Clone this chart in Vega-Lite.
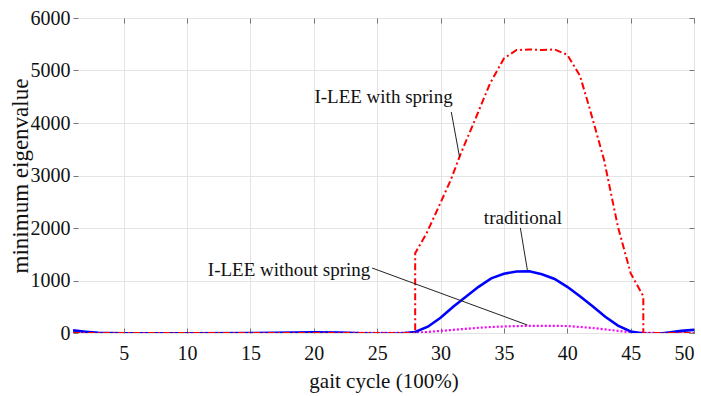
{
  "$schema": "https://vega.github.io/schema/vega-lite/v6.json",
  "width": 621,
  "height": 315,
  "autosize": {"type": "none"},
  "padding": {"left": 73, "top": 18, "right": 7, "bottom": 63},
  "background": "white",
  "config": {
    "view": {"stroke": null},
    "font": "Liberation Serif, Times New Roman, serif",
    "axis": {
      "labelFont": "Liberation Serif, Times New Roman, serif",
      "titleFont": "Liberation Serif, Times New Roman, serif",
      "labelFontSize": 20,
      "titleFontSize": 21,
      "titleFontWeight": "normal",
      "labelColor": "#111",
      "titleColor": "#111",
      "gridColor": "#e4e4e4",
      "gridWidth": 1,
      "domain": false,
      "ticks": true,
      "tickSize": -5,
      "tickColor": "#777",
      "tickWidth": 1
    }
  },
  "datasets": {
    "curves": [
      {"series": "with", "i": 1, "x": 1, "y": 0},
      {"series": "with", "i": 2, "x": 5, "y": 0},
      {"series": "with", "i": 3, "x": 10, "y": 0},
      {"series": "with", "i": 4, "x": 15, "y": 0},
      {"series": "with", "i": 5, "x": 20, "y": 0},
      {"series": "with", "i": 6, "x": 25, "y": 0},
      {"series": "with", "i": 7, "x": 28, "y": 0},
      {"series": "with", "i": 8, "x": 28, "y": 1520},
      {"series": "with", "i": 9, "x": 28.9, "y": 1900},
      {"series": "with", "i": 10, "x": 29.85, "y": 2400},
      {"series": "with", "i": 11, "x": 30.8, "y": 2910},
      {"series": "with", "i": 12, "x": 31.6, "y": 3420},
      {"series": "with", "i": 13, "x": 32.6, "y": 3990},
      {"series": "with", "i": 14, "x": 33.9, "y": 4750},
      {"series": "with", "i": 15, "x": 35, "y": 5230},
      {"series": "with", "i": 16, "x": 36, "y": 5390},
      {"series": "with", "i": 17, "x": 37, "y": 5400},
      {"series": "with", "i": 18, "x": 38, "y": 5390},
      {"series": "with", "i": 19, "x": 39, "y": 5400},
      {"series": "with", "i": 20, "x": 40, "y": 5300},
      {"series": "with", "i": 21, "x": 41, "y": 4900},
      {"series": "with", "i": 22, "x": 41.8, "y": 4250},
      {"series": "with", "i": 23, "x": 42.9, "y": 3300},
      {"series": "with", "i": 24, "x": 44, "y": 2020},
      {"series": "with", "i": 25, "x": 45, "y": 1140},
      {"series": "with", "i": 26, "x": 46, "y": 700},
      {"series": "with", "i": 27, "x": 46, "y": 0},
      {"series": "with", "i": 28, "x": 47, "y": 0},
      {"series": "with", "i": 29, "x": 50, "y": 0},

      {"series": "trad", "i": 1, "x": 1, "y": 50},
      {"series": "trad", "i": 2, "x": 2, "y": 25},
      {"series": "trad", "i": 3, "x": 3, "y": 5},
      {"series": "trad", "i": 4, "x": 5, "y": -5},
      {"series": "trad", "i": 5, "x": 10, "y": -5},
      {"series": "trad", "i": 6, "x": 15, "y": 0},
      {"series": "trad", "i": 7, "x": 20, "y": 15},
      {"series": "trad", "i": 8, "x": 22, "y": 10},
      {"series": "trad", "i": 9, "x": 25, "y": -15},
      {"series": "trad", "i": 10, "x": 27, "y": -5},
      {"series": "trad", "i": 11, "x": 28, "y": 20},
      {"series": "trad", "i": 12, "x": 29, "y": 120},
      {"series": "trad", "i": 13, "x": 30, "y": 290},
      {"series": "trad", "i": 14, "x": 31, "y": 500},
      {"series": "trad", "i": 15, "x": 32, "y": 690},
      {"series": "trad", "i": 16, "x": 33, "y": 880},
      {"series": "trad", "i": 17, "x": 34, "y": 1040},
      {"series": "trad", "i": 18, "x": 35, "y": 1130},
      {"series": "trad", "i": 19, "x": 36, "y": 1170},
      {"series": "trad", "i": 20, "x": 37, "y": 1175},
      {"series": "trad", "i": 21, "x": 38, "y": 1120},
      {"series": "trad", "i": 22, "x": 39, "y": 1030},
      {"series": "trad", "i": 23, "x": 40, "y": 880},
      {"series": "trad", "i": 24, "x": 41, "y": 700},
      {"series": "trad", "i": 25, "x": 42, "y": 510},
      {"series": "trad", "i": 26, "x": 43, "y": 310},
      {"series": "trad", "i": 27, "x": 44, "y": 140},
      {"series": "trad", "i": 28, "x": 45, "y": 30},
      {"series": "trad", "i": 29, "x": 46, "y": -10},
      {"series": "trad", "i": 30, "x": 47, "y": -20},
      {"series": "trad", "i": 31, "x": 48, "y": 10},
      {"series": "trad", "i": 32, "x": 49, "y": 40},
      {"series": "trad", "i": 33, "x": 50, "y": 60},

      {"series": "without", "i": 1, "x": 1, "y": 0},
      {"series": "without", "i": 2, "x": 10, "y": 0},
      {"series": "without", "i": 3, "x": 20, "y": 0},
      {"series": "without", "i": 4, "x": 28, "y": 5},
      {"series": "without", "i": 5, "x": 29, "y": 20},
      {"series": "without", "i": 6, "x": 30, "y": 40},
      {"series": "without", "i": 7, "x": 31, "y": 60},
      {"series": "without", "i": 8, "x": 32, "y": 80},
      {"series": "without", "i": 9, "x": 33, "y": 100},
      {"series": "without", "i": 10, "x": 34, "y": 115},
      {"series": "without", "i": 11, "x": 35, "y": 125},
      {"series": "without", "i": 12, "x": 36, "y": 132},
      {"series": "without", "i": 13, "x": 37, "y": 135},
      {"series": "without", "i": 14, "x": 38, "y": 135},
      {"series": "without", "i": 15, "x": 39, "y": 135},
      {"series": "without", "i": 16, "x": 40, "y": 133},
      {"series": "without", "i": 17, "x": 41, "y": 115},
      {"series": "without", "i": 18, "x": 42, "y": 95},
      {"series": "without", "i": 19, "x": 43, "y": 70},
      {"series": "without", "i": 20, "x": 44, "y": 40},
      {"series": "without", "i": 21, "x": 45, "y": 15},
      {"series": "without", "i": 22, "x": 46, "y": 5},
      {"series": "without", "i": 23, "x": 47, "y": 0},
      {"series": "without", "i": 24, "x": 50, "y": 0}
    ],
    "labels": [
      {"x": 25.5, "y": 4500, "text": "I-LEE with spring"},
      {"x": 36.5, "y": 2190, "text": "traditional"},
      {"x": 18.05, "y": 1200, "text": "I-LEE without spring"}
    ],
    "leaders": [
      {"x": 30.85, "y": 4210, "x2": 31.5, "y2": 3352},
      {"x": 36.3, "y": 2000, "x2": 36.85, "y2": 1200},
      {"x": 24.6, "y": 1238, "x2": 36.85, "y2": 152}
    ]
  },
  "resolve": {"scale": {"x": "independent", "y": "independent"}, "axis": {"x": "independent", "y": "independent"}},
  "layer": [
    {
      "layer": [
        {
          "data": {"name": "curves"},
          "transform": [{"filter": "datum.series === 'without'"}],
          "mark": {"type": "line", "color": "#ff00ff", "strokeWidth": 2.2, "strokeDash": [2, 2], "clip": true},
          "encoding": {
            "x": {"field": "x", "type": "quantitative", "scale": {"domain": [1, 50], "nice": false, "zero": false},
              "axis": {"values": [5, 10, 15, 20, 25, 30, 35, 40, 45, 50], "format": "d", "title": "gait cycle (100%)", "labelPadding": 15, "titlePadding": 7, "grid": true}},
            "y": {"field": "y", "type": "quantitative", "scale": {"domain": [0, 6000], "nice": false},
              "axis": {"values": [0, 1000, 2000, 3000, 4000, 5000, 6000], "format": "d", "title": "minimum eigenvalue", "titleFontSize": 23, "labelPadding": 8, "titlePadding": -2, "grid": true}},
            "order": {"field": "i", "type": "quantitative"}
          }
        },
        {
          "data": {"name": "curves"},
          "transform": [{"filter": "datum.series === 'trad'"}],
          "mark": {"type": "line", "color": "#0000ff", "strokeWidth": 2.6, "clip": true},
          "encoding": {
            "x": {"field": "x", "type": "quantitative"},
            "y": {"field": "y", "type": "quantitative"},
            "order": {"field": "i", "type": "quantitative"}
          }
        },
        {
          "data": {"name": "curves"},
          "transform": [{"filter": "datum.series === 'with'"}],
          "mark": {"type": "line", "color": "#ff0000", "strokeWidth": 2, "strokeDash": [7, 3, 2, 3], "clip": true},
          "encoding": {
            "x": {"field": "x", "type": "quantitative"},
            "y": {"field": "y", "type": "quantitative"},
            "order": {"field": "i", "type": "quantitative"}
          }
        },
        {
          "data": {"name": "leaders"},
          "mark": {"type": "rule", "color": "#222", "strokeWidth": 1},
          "encoding": {
            "x": {"field": "x", "type": "quantitative"},
            "y": {"field": "y", "type": "quantitative"},
            "x2": {"field": "x2"},
            "y2": {"field": "y2"}
          }
        },
        {
          "data": {"name": "labels"},
          "mark": {"type": "text", "font": "Liberation Serif, Times New Roman, serif", "fontSize": 19, "color": "#111", "align": "center", "baseline": "middle"},
          "encoding": {
            "x": {"field": "x", "type": "quantitative"},
            "y": {"field": "y", "type": "quantitative"},
            "text": {"field": "text"}
          }
        }
      ]
    },
    {
      "data": {"name": "curves"},
      "mark": {"type": "point", "opacity": 0},
      "encoding": {
        "x": {"field": "x", "type": "quantitative", "scale": {"domain": [1, 50], "nice": false, "zero": false},
          "axis": {"orient": "top", "values": [5, 10, 15, 20, 25, 30, 35, 40, 45, 50], "labels": false, "title": null, "grid": false}},
        "y": {"field": "y", "type": "quantitative", "scale": {"domain": [0, 6000], "nice": false},
          "axis": {"orient": "right", "values": [0, 1000, 2000, 3000, 4000, 5000, 6000], "labels": false, "title": null, "grid": false}}
      }
    }
  ]
}
